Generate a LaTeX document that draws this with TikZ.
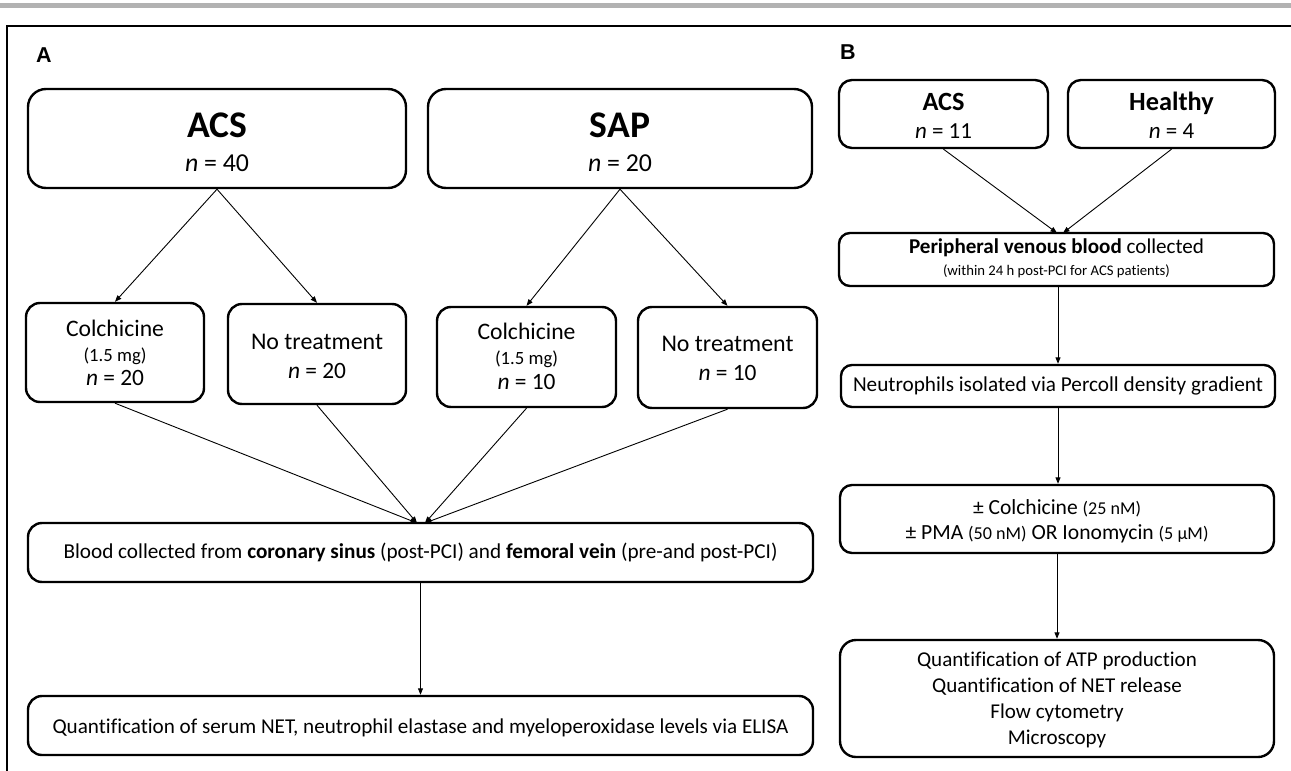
\documentclass[tikz,border=0pt]{standalone}
\usepackage{fontspec}
\setmainfont{Carlito}[Ligatures=NoCommon]
\newfontfamily\labelfont{Liberation Sans}
\usetikzlibrary{arrows.meta}
\makeatletter
% set a line of text at the size that makes it #2 pt wide; optionally remember the size as #1
\newcommand\fitline[3][]{\begingroup
  \sbox0{\fontsize{10}{12}\selectfont #3}%
  \edef\fit@w{\strip@pt\wd0}%
  \pgfmathsetmacro\fit@sz{10*#2/\fit@w}%
  \ifx\relax#1\relax\else\expandafter\xdef\csname fs@#1\endcsname{\fit@sz}\fi
  \fontsize{\fit@sz}{\baselineskip}\selectfont #3\endgroup}
\newcommand\useline[2]{{\fontsize{\csname fs@#1\endcsname}{\baselineskip}\selectfont #2}}
\newcommand\rel[2]{{\fontsize{\the\dimexpr #1\dimexpr\f@size pt\relax\relax}{\baselineskip}\selectfont #2}}
\makeatother
\newcommand\topst[1]{\rule{0pt}{#1pt}}
\newcommand\botst{\rule[-10pt]{0pt}{10pt}}
\begin{document}
\begin{tikzpicture}[x=1pt,y=-1pt,
  box/.style={draw=black, line width=2.4pt, rounded corners=14pt, inner sep=0pt, align=center},
  bigbox/.style={box, rounded corners=18pt},
  conn/.style={line width=0.9pt, -{Triangle[length=6.5pt,width=5pt]}},
  plab/.style={font=\labelfont\bfseries\fontsize{21.5}{24}\selectfont, inner sep=0pt}]
\useasboundingbox (0,0) rectangle (1291,771);
% top bar and frame
\fill[black!30] (0,2.5) rectangle (1291,7.5);
\draw[line width=1.5pt] (7,771) -- (7,26) -- (1291,26);
% panel labels
\node[plab] (labA) at (44,55.5) {A};
\node[plab] (labB) at (848,52.5) {B};
% panel A
\node[bigbox, minimum width=378, minimum height=99, font=\fontsize{26}{34}\selectfont] (acsA) at (217,138.5)
  {\topst{41}\fitline[big]{60}{\bfseries ACS}\\\fitline[bign]{64}{\textit{n} = 40}\botst};
\node[bigbox, minimum width=384, minimum height=99, font=\fontsize{26}{34}\selectfont] (sapA) at (620,138.5)
  {\topst{41}\useline{big}{\bfseries SAP}\\\useline{bign}{\textit{n} = 20}\botst};
\node[box, minimum width=178, minimum height=99, font=\fontsize{24}{24.5}\selectfont] (colA) at (115,352.5)
  {\topst{27}\fitline[col]{98}{Colchicine}\\\fitline[dose]{63}{(1.5 mg)}\\\fitline[smn]{58}{\textit{n} = 20}\botst};
\node[box, minimum width=178, minimum height=100, font=\fontsize{24}{29}\selectfont] (notA) at (317,354)
  {\topst{29}\fitline[not]{132}{No treatment}\\\useline{smn}{\textit{n} = 20}\botst};
\node[box, minimum width=179, minimum height=100, font=\fontsize{24}{25}\selectfont] (colS) at (526.5,357)
  {\topst{25}\useline{col}{Colchicine}\\\useline{dose}{(1.5 mg)}\\\useline{smn}{\textit{n} = 10}\botst};
\node[box, minimum width=179, minimum height=101, font=\fontsize{24}{28.5}\selectfont] (notS) at (727.5,357.5)
  {\topst{27}\useline{not}{No treatment}\\\useline{smn}{\textit{n} = 10}\botst};
\node[box, minimum width=785, minimum height=59, font=\fontsize{21}{26}\selectfont] (blood) at (420.5,552.5)
  {\topst{21.6}\fitline{714}{Blood collected from \textbf{coronary sinus} (post-PCI) and \textbf{femoral vein} (pre-and post-PCI)}\botst};
\node[box, minimum width=785, minimum height=59, font=\fontsize{21}{26}\selectfont] (quantA) at (420.5,725.5)
  {\topst{26}\fitline{736}{Quantification of serum NET, neutrophil elastase and myeloperoxidase levels via ELISA}\botst};
\coordinate (cA1) at (417,523);
\coordinate (cA2) at (425,523);
\draw[conn] (acsA.south) -- (colA.north);
\draw[conn] (acsA.south) -- (notA.north);
\draw[conn] (sapA.south) -- (colS.north);
\draw[conn] (sapA.south) -- (notS.north);
\draw[conn] (colA.south) -- (cA1);
\draw[conn] (notA.south) -- (cA1);
\draw[conn] (colS.south) -- (cA2);
\draw[conn] (notS.south) -- (cA2);
\draw[conn] (blood.south) -- (quantA.north);
% panel B
\node[box, rounded corners=13pt, minimum width=209, minimum height=68, font=\fontsize{23}{28}\selectfont] (acsB) at (943.5,114)
  {\topst{30}\fitline[bh]{42}{\bfseries ACS}\\\fitline[bn]{57}{\textit{n} = 11}\botst};
\node[box, rounded corners=13pt, minimum width=207, minimum height=68, font=\fontsize{23}{28}\selectfont] (healthy) at (1171.5,114)
  {\topst{30}\useline{bh}{\bfseries Healthy}\\\useline{bn}{\textit{n} = 4}\botst};
\node[box, rounded corners=11pt, minimum width=435, minimum height=53, font=\fontsize{21}{22.6}\selectfont] (periph) at (1056.5,259.5)
  {\topst{20.2}\fitline{295}{\textbf{Peripheral venous blood} collected}\\\fitline{227}{(within 24 h post-PCI for ACS patients)}\botst};
\node[box, rounded corners=11pt, minimum width=434, minimum height=42, font=\fontsize{21}{24}\selectfont] (neut) at (1058,386)
  {\topst{20}\fitline{410}{Neutrophils isolated via Percoll density gradient}\botst};
\node[box, rounded corners=12pt, minimum width=434, minimum height=68, font=\fontsize{21}{24.7}\selectfont] (colB) at (1057,519)
  {\topst{25.3}\fitline{168}{± Colchicine \rel{0.84}{(25 nM)}}\\\fitline{303}{± PMA \rel{0.84}{(50 nM)} OR Ionomycin \rel{0.84}{(5 µM)}}\botst};
\node[box, rounded corners=16pt, minimum width=434, minimum height=117, font=\fontsize{21}{25.8}\selectfont] (final) at (1057,698.5)
  {\topst{23.7}\fitline[fin]{280}{Quantification of ATP production}\\\useline{fin}{Quantification of NET release}\\\useline{fin}{Flow cytometry}\\\useline{fin}{Microscopy}\botst};
\coordinate (cB1) at (1057,233);
\coordinate (cB2) at (1063,233);
\draw[conn] (acsB.south) -- (cB1);
\draw[conn] (healthy.south) -- (cB2);
\draw[conn] (periph.south -| neut.north) -- (neut.north);
\draw[conn] (neut.south) -- (colB.north -| neut.south);
\draw[conn] (colB.south -| final.north) -- (final.north);
\end{tikzpicture}
\end{document}
